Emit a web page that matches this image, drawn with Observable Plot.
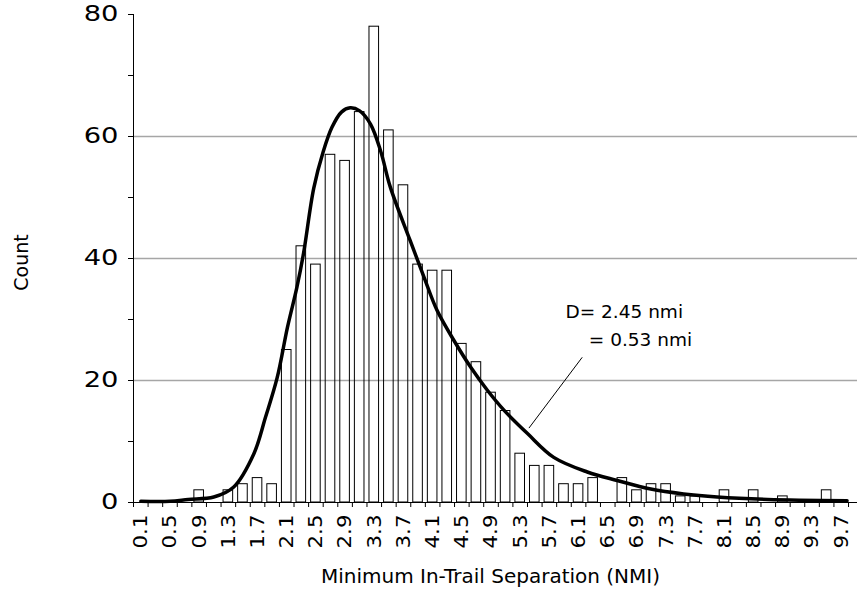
<!DOCTYPE html>
<html><head><meta charset="utf-8">
<script src="https://cdn.jsdelivr.net/npm/d3@7"></script>
<script src="https://cdn.jsdelivr.net/npm/@observablehq/plot@0.6"></script>
<style>body{margin:0;background:#fff} svg{display:block}</style>
</head><body><div id="chart"></div>
<script>
// Histogram bins (NMI, bin centers, width 0.2)
const binCenters = [0.1,0.3,0.5,0.7,0.9,1.1,1.3,1.5,1.7,1.9,2.1,2.3,2.5,2.7,2.9,3.1,3.3,3.5,3.7,3.9,4.1,4.3,4.5,4.7,4.9,5.1,5.3,5.5,5.7,5.9,6.1,6.3,6.5,6.7,6.9,7.1,7.3,7.5,7.7,7.9,8.1,8.3,8.5,8.7,8.9,9.1,9.3,9.5,9.7];
const counts     = [0,0,0,0,2,0,2,3,4,3,25,42,39,57,56,64,78,61,52,39,38,38,26,23,18,15,8,6,6,3,3,4,0,4,2,3,3,1,1,0,2,0,2,0,1,0,0,2,0];

// Fitted distribution curve
const fitX = [0.1,0.5,0.75,1.1,1.37,1.65,1.81,1.97,2.11,2.24,2.33,2.47,2.6,2.72,2.85,2.97,3.1,3.25,3.39,3.52,3.79,3.98,4.16,4.39,4.62,4.85,5.08,5.4,5.76,6.22,6.63,7.09,7.54,8.0,8.69,9.78];
const fitY = [0.2,0.2,0.5,0.9,2.5,8,14,20.5,28.7,35.3,40.8,51.5,57.5,61.5,64,64.7,64.2,62,57.5,51.7,43,37,31.5,26.6,22.2,18.4,15.1,11.3,7.4,5.0,3.6,2.2,1.4,0.9,0.5,0.3];

// Axis ticks and labels
const xTickBounds = [0,0.2,0.4,0.6,0.8,1,1.2,1.4,1.6,1.8,2,2.2,2.4,2.6,2.8,3,3.2,3.4,3.6,3.8,4,4.2,4.4,4.6,4.8,5,5.2,5.4,5.6,5.8,6,6.2,6.4,6.6,6.8,7,7.2,7.4,7.6,7.8,8,8.2,8.4,8.6,8.8,9,9.2,9.4,9.6,9.8];
const xLabelVals = [0.1,0.5,0.9,1.3,1.7,2.1,2.5,2.9,3.3,3.7,4.1,4.5,4.9,5.3,5.7,6.1,6.5,6.9,7.3,7.7,8.1,8.5,8.9,9.3,9.7];
const xLabels = ["0.1","0.5","0.9","1.3","1.7","2.1","2.5","2.9","3.3","3.7","4.1","4.5","4.9","5.3","5.7","6.1","6.5","6.9","7.3","7.7","8.1","8.5","8.9","9.3","9.7"];
const yMajor = [0,20,40,60,80];
const yMajorLabels = ["0","20","40","60","80"];
const yMinor = [10,30,50,70];
const yGrid = [20,40,60];

// Annotation
const annLines = ["D= 2.45 nmi", "= 0.53 nmi"];
const annX = [5.92, 6.24];
const annY = [30.2, 25.6];
const leader = [{x1: 6.15, y1: 23.8, x2: 5.42, y2: 12.2}];

const xTitle = "Minimum In-Trail Separation (NMI)";
const yTitle = "Count";

const bars = binCenters.map((c, i) => ({c, n: counts[i]})).filter(d => d.n > 0);
const fit = fitX.map((x, i) => ({x, y: fitY[i]}));
const ann = annLines.map((t, i) => ({t, x: annX[i], y: annY[i]}));

const font = "DejaVu Sans, Verdana, sans-serif";

const chart = Plot.plot({
  width: 857, height: 596,
  marginLeft: 133, marginRight: 0, marginTop: 14, marginBottom: 94,
  style: {fontFamily: font, fontSize: "20px", color: "#000", background: "#fff", overflow: "visible"},
  x: {domain: [0, 9.923]},
  y: {domain: [0, 80]},
  marks: [
    Plot.ruleY(yGrid, {stroke: "#a6a6a6", strokeWidth: 1.5}),
    Plot.rectY(bars, {x1: d => d.c - 0.1, x2: d => d.c + 0.1, y1: 0, y2: "n", fill: "none", stroke: "#000", strokeWidth: 1, insetLeft: 2.5, insetRight: 2.5}),
    Plot.line(fit, {x: "x", y: "y", stroke: "#000", strokeWidth: 3.5, curve: "catmull-rom"}),
    Plot.ruleY([0], {stroke: "#000", strokeWidth: 1}),
    Plot.ruleX([0], {y1: 0, y2: 80, stroke: "#000", strokeWidth: 1}),
    Plot.axisX({ticks: xTickBounds, tickFormat: () => "", tickSize: 5, label: null}),
    Plot.axisX({ticks: xLabelVals, tickFormat: (d, i) => xLabels[i], tickSize: 0, tickPadding: 12, tickRotate: -90, label: null, fontSize: 20}),
    Plot.axisY({ticks: yMajor, tickFormat: (d, i) => yMajorLabels[i], tickSize: 5, tickPadding: 10, label: null, fontSize: 21}),
    Plot.axisY({ticks: yMinor, tickSize: 5, tickFormat: () => "", label: null}),
    Plot.text([yTitle], {frameAnchor: "left", textAnchor: "middle", dx: -112, dy: 4, rotate: -90, fontSize: 19}),
    Plot.text([xTitle], {frameAnchor: "bottom", dx: -5, dy: 80, fontSize: 20}),
    Plot.link(leader, {x1: "x1", y1: "y1", x2: "x2", y2: "y2", stroke: "#000", strokeWidth: 1}),
    Plot.text(ann, {x: "x", y: "y", text: "t", textAnchor: "start", fontSize: 18.5, lineAnchor: "bottom"})
  ]
});
document.getElementById("chart").appendChild(chart);

// The reference's tick numerals are drawn in a wide face: stretch them along their baseline.
function stretch(el, k) {
  const len = el.getComputedTextLength();
  if (len > 0) {
    el.setAttribute("textLength", (len * k).toFixed(1));
    el.setAttribute("lengthAdjust", "spacingAndGlyphs");
  }
}
chart.querySelectorAll("text").forEach(el => {
  const t = el.textContent.trim();
  if (yMajorLabels.includes(t)) stretch(el, 1.3);
  else if (xLabels.includes(t)) stretch(el, 1.07);
});
</script>
</body></html>
